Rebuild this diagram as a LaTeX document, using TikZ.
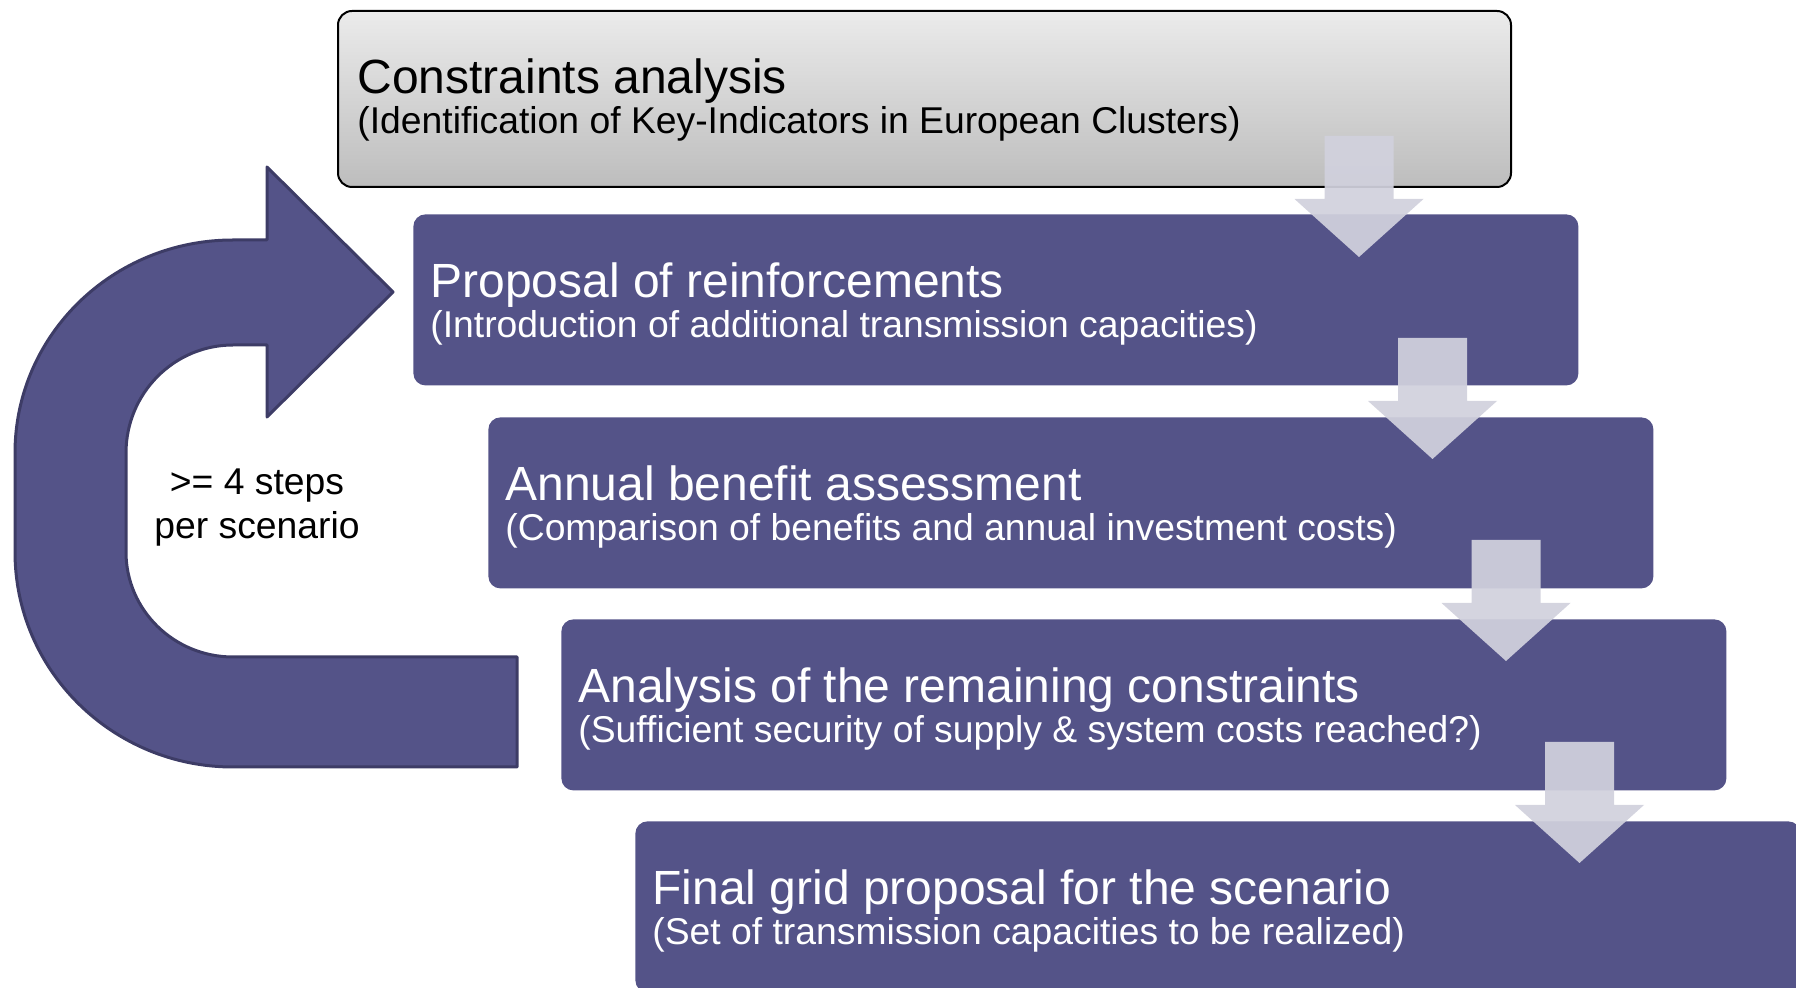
\documentclass[tikz,border=0pt]{standalone}
\usepackage{fontspec}
\setmainfont{Liberation Sans}
\usetikzlibrary{calc}

\definecolor{boxfill}{HTML}{545388}
\definecolor{loopline}{HTML}{3D3C66}
\definecolor{flowarrow}{HTML}{D1D1DD}
\definecolor{greytop}{HTML}{EBEBEB}
\definecolor{greybot}{HTML}{BDBDBD}

\begin{document}
\begin{tikzpicture}[x=0.5pt,y=-0.5pt,
  stepbox/.style={fill=boxfill, draw=none, rounded corners=6pt, anchor=north west,
    minimum width=582.5pt, minimum height=85.5pt, inner sep=0pt},
  headbox/.style={top color=greytop, bottom color=greybot, draw=black, line width=1pt,
    rounded corners=7pt, anchor=north west, minimum width=586.5pt, minimum height=88pt, inner sep=0pt},
  titletext/.style={anchor=base west, inner sep=0pt, font=\fontsize{24}{28}\selectfont},
  subtext/.style={anchor=base west, inner sep=0pt, font=\fontsize{18.65}{22}\selectfont},
  looptext/.style={anchor=base, inner sep=0pt, font=\fontsize{18.65}{22}\selectfont},
  downarrow/.pic={
    \fill[flowarrow, opacity=0.93] (-34.5,0) -- (34.5,0) -- (34.5,63) -- (64.5,63)
      -- (0,121) -- (-64.5,63) -- (-34.5,63) -- cycle;
  }]
\useasboundingbox (0,0) rectangle (1796,988);
\clip (0,0) rectangle (1796,988);

% process steps
\node[headbox] (b1) at (337,10) {};
\node[stepbox] (b2) at (413,214) {};
\node[stepbox] (b3) at (488,417) {};
\node[stepbox] (b4) at (561,619) {};
\node[stepbox] (b5) at (635,821) {};

% step texts
\node[titletext] (t1) at (357,94) {Constraints analysis};
\node[subtext]   (s1) at (357,134) {(Identification of Key-Indicators in European Clusters)};
\node[titletext, text=white] (t2) at (430,298) {Proposal of reinforcements};
\node[subtext, text=white]   (s2) at (430,338) {(Introduction of additional transmission capacities)};
\node[titletext, text=white] (t3) at (505,501) {Annual benefit assessment};
\node[subtext, text=white]   (s3) at (505,541) {(Comparison of benefits and annual investment costs)};
\node[titletext, text=white] (t4) at (578,703) {Analysis of the remaining constraints};
\node[subtext, text=white]   (s4) at (578,743) {(Sufficient security of supply \& system costs reached?)};
\node[titletext, text=white] (t5) at (652,905) {Final grid proposal for the scenario};
\node[subtext, text=white]   (s5) at (652,945) {(Set of transmission capacities to be realized)};

% block arrows between consecutive steps
\pic at (1359,136) {downarrow};
\pic at (1432.5,338) {downarrow};
\pic at (1506,540) {downarrow};
\pic at (1579.5,742) {downarrow};

% iteration loop arrow
\filldraw[fill=boxfill, draw=loopline, line width=1.5pt, line join=round]
  (267,240) -- (233,240)
  .. controls (112.6,240) and (15,335.3) .. (15,453)
  -- (15,552)
  .. controls (15,670.7) and (112.6,767) .. (233,767)
  -- (517,767) -- (517,657) -- (233,657)
  .. controls (173.9,657) and (126,610) .. (126,552)
  -- (126,453)
  .. controls (126,393.4) and (173.9,345) .. (233,345)
  -- (267,345) -- (267,417) -- (393,292) -- (267,167) -- cycle;

\node[looptext] (l1) at (257,495) {>= 4 steps};
\node[looptext] (l2) at (257,539) {per scenario};
\end{tikzpicture}
\end{document}
